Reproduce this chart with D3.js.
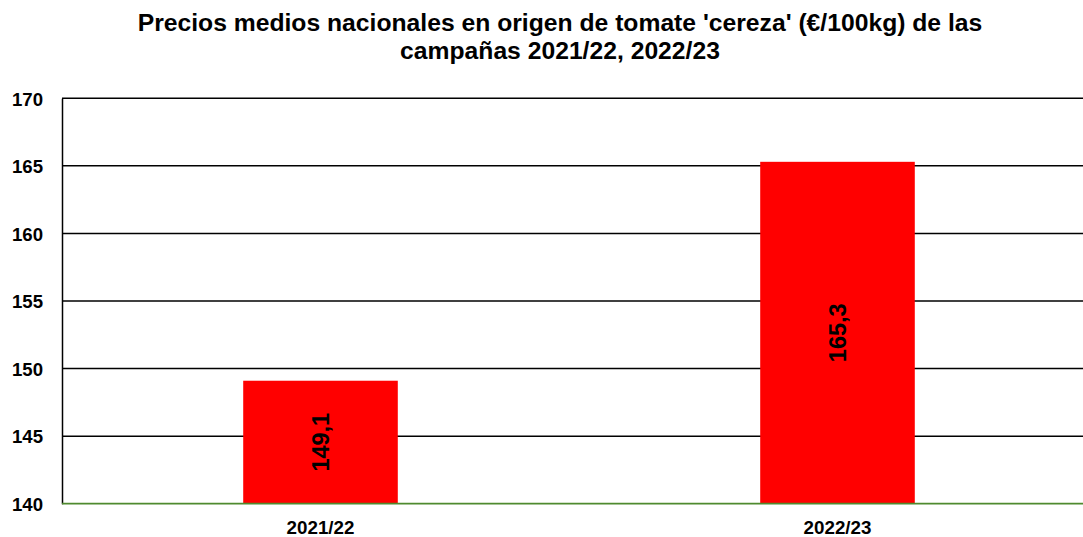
<!DOCTYPE html>
<html><head><meta charset="utf-8">
<script src="https://cdn.jsdelivr.net/npm/d3@7"></script>
<style>body{margin:0;background:#fff;} svg{display:block;font-family:"Liberation Sans",Arial,sans-serif;}</style>
</head><body>
<svg id="c" width="1083" height="537"></svg>
<script>
const categories = ["2021/22", "2022/23"];
const values = [149.1, 165.3];
const valueLabels = ["149,1", "165,3"];
const yTicks = [140, 145, 150, 155, 160, 165, 170];
const titleLines = ["Precios medios nacionales en origen de tomate 'cereza' (€/100kg) de las", "campañas 2021/22, 2022/23"];

const svg = d3.select("#c");
const L = 62, R = 1096, T = 98.3, B = 503.7;
const x = d3.scaleBand().domain(categories).range([L, R]).padding(0);
const y = d3.scaleLinear().domain([140, 170]).range([B, T]);
const barW = x.bandwidth() * 0.299;

svg.append("g").selectAll("text").data(titleLines).join("text")
  .attr("x", 560).attr("y", (d, i) => 31 + i * 28)
  .attr("text-anchor", "middle").attr("font-weight", "bold").attr("font-size", 24.7)
  .text(d => d);

// gridlines
svg.append("g").selectAll("line").data(yTicks.filter(d => d > 140)).join("line")
  .attr("x1", L).attr("x2", 1083).attr("y1", d => y(d)).attr("y2", d => y(d))
  .attr("stroke", "#000").attr("stroke-width", 1.5);

// bars
svg.append("g").selectAll("rect").data(values).join("rect")
  .attr("x", (d, i) => x(categories[i]) + x.bandwidth() / 2 - barW / 2)
  .attr("width", barW)
  .attr("y", d => y(d)).attr("height", d => y(140) - y(d))
  .attr("fill", "#ff0000");

// bar labels
svg.append("g").selectAll("text").data(values).join("text")
  .attr("transform", (d, i) => {
    const cx = x(categories[i]) + x.bandwidth() / 2;
    const cy = (y(d) + y(140)) / 2;
    return `translate(${cx + 8},${cy}) rotate(-90)`;
  })
  .attr("text-anchor", "middle").attr("font-weight", "bold").attr("font-size", 23.5)
  .text((d, i) => valueLabels[i]);

// y axis
const yAxis = svg.append("g").attr("transform", `translate(${L},0)`)
  .call(d3.axisLeft(y).tickValues(yTicks).tickSize(0).tickPadding(19).tickFormat(d3.format("d")));
yAxis.select(".domain").attr("stroke", "#000").attr("stroke-width", 1.5);
yAxis.selectAll("text").attr("font-size", 18.6).attr("font-weight", "bold").attr("fill", "#000")
  .attr("font-family", "Liberation Sans, Arial, sans-serif").attr("dy", "0.36em");

// baseline
svg.append("line").attr("x1", L).attr("x2", 1083).attr("y1", y(140)).attr("y2", y(140))
  .attr("stroke", "#4f8a2f").attr("stroke-width", 1.8);

// x axis labels
svg.append("g").selectAll("text").data(categories).join("text")
  .attr("x", d => x(d) + x.bandwidth() / 2).attr("y", 534)
  .attr("text-anchor", "middle").attr("font-weight", "bold").attr("font-size", 18.8)
  .text(d => d);
</script>
</body></html>
